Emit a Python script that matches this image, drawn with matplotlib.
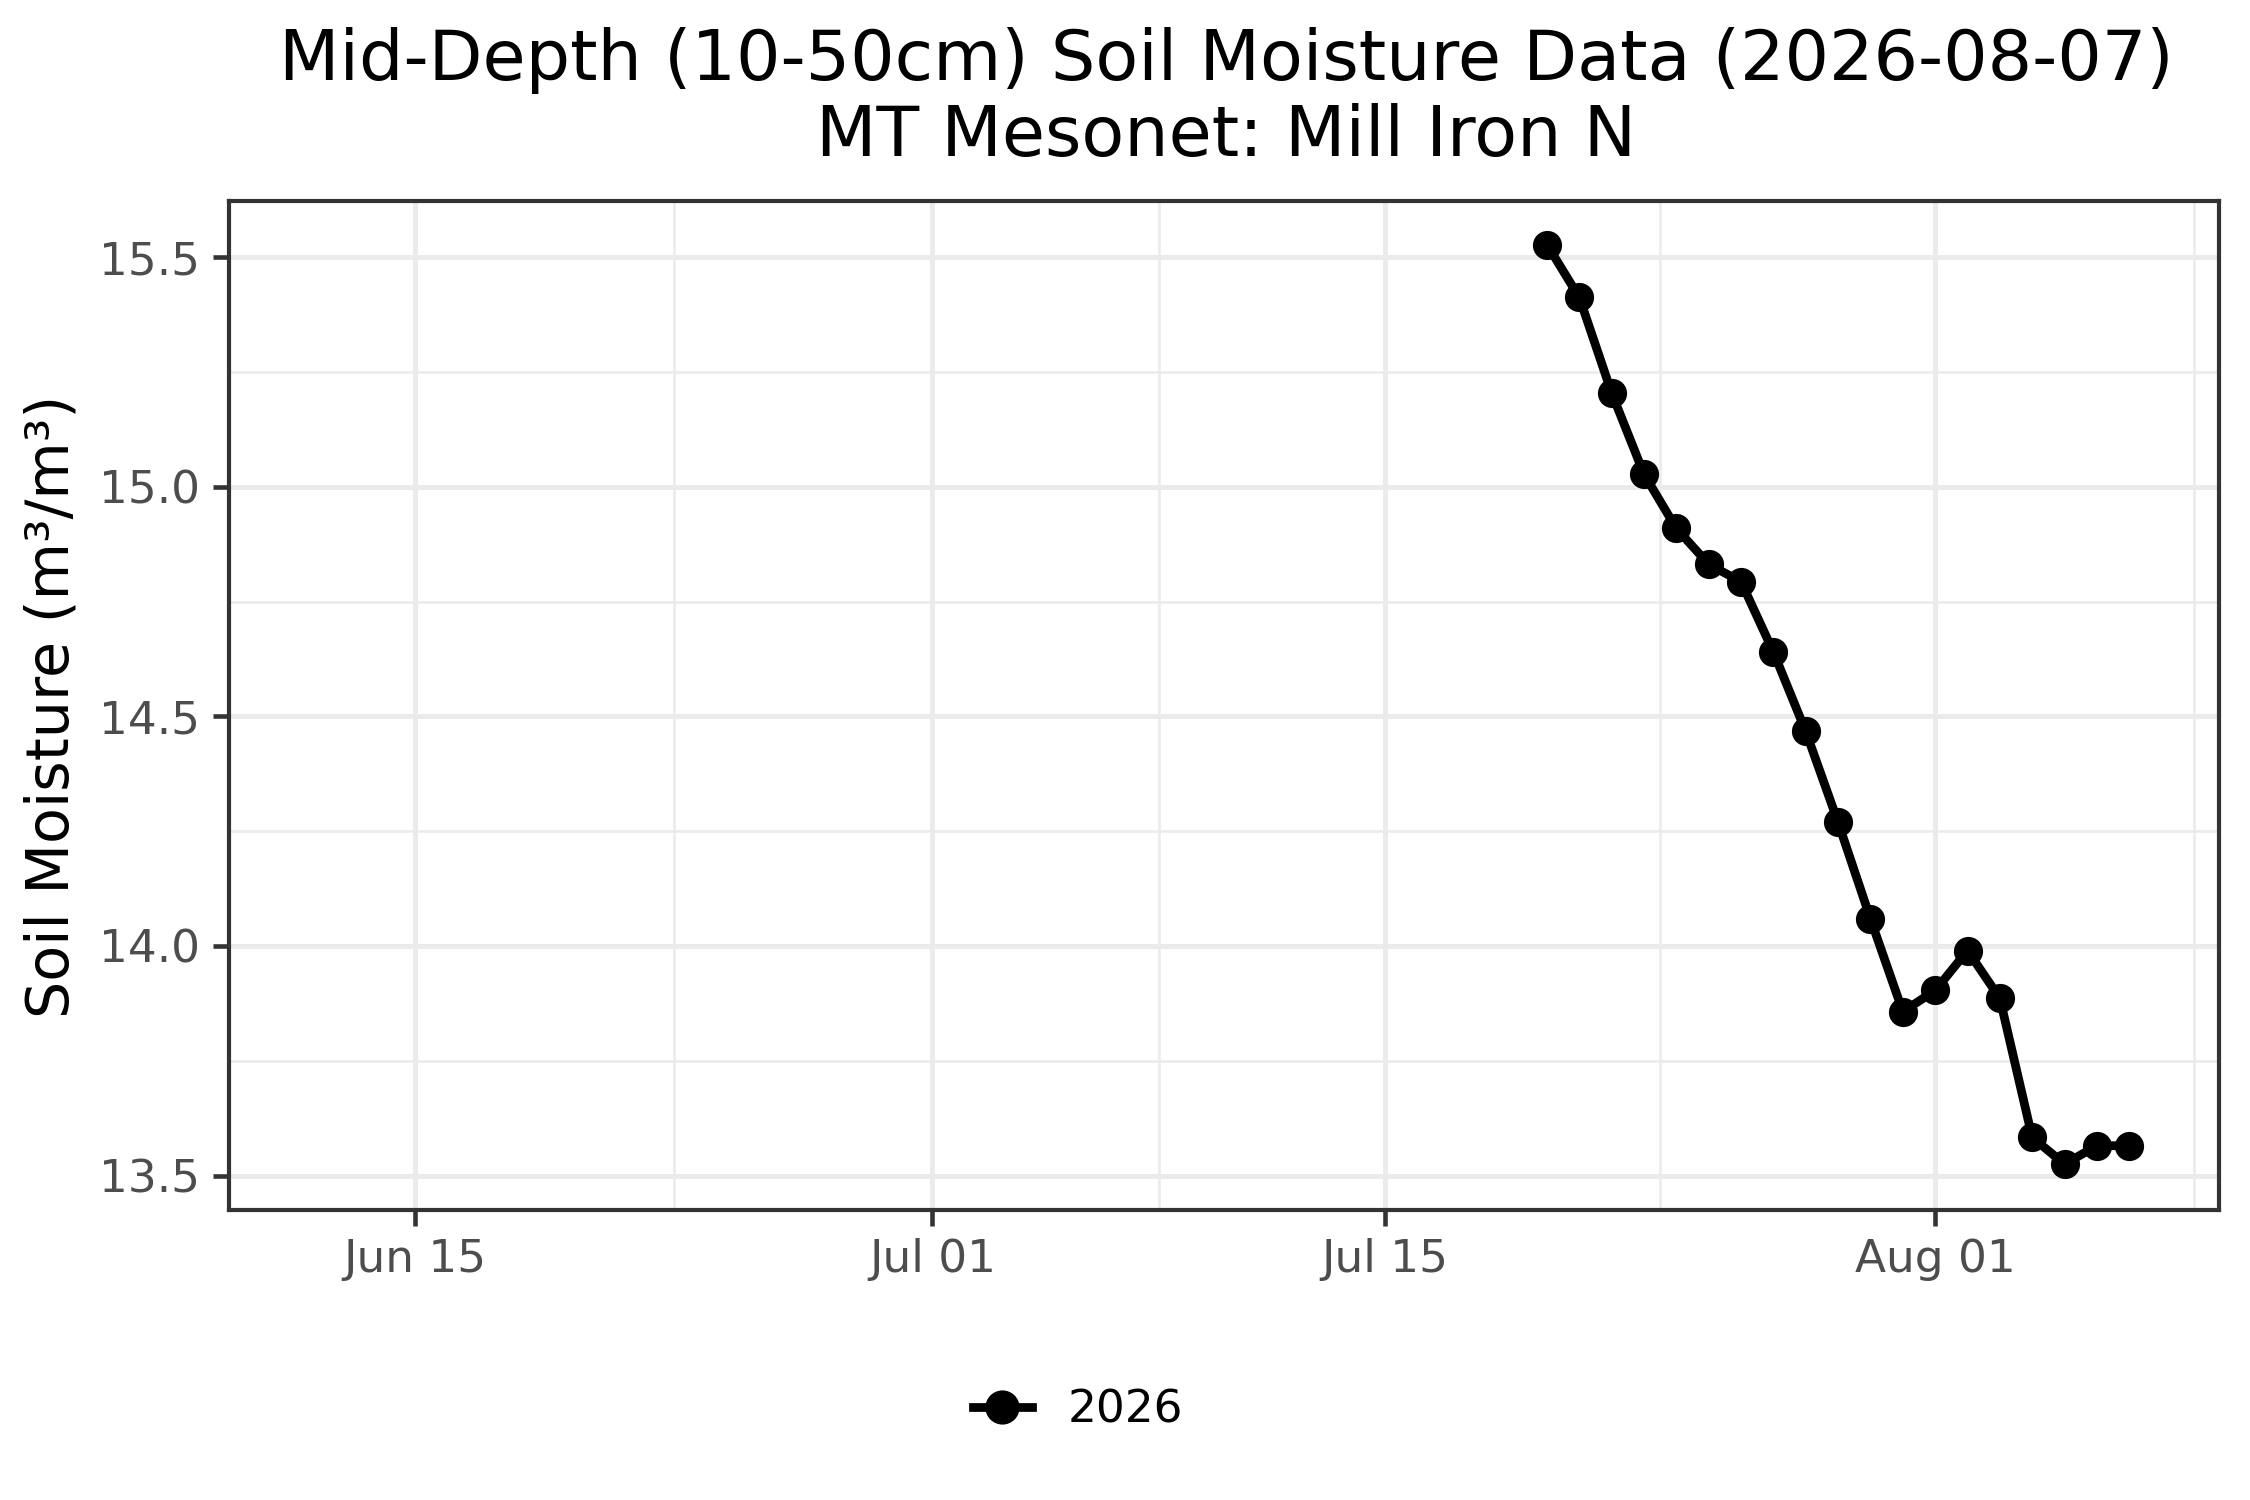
import matplotlib
matplotlib.use("Agg")
import matplotlib.pyplot as plt
import matplotlib.dates as mdates
from datetime import datetime, timedelta

# daily mid-depth soil moisture, Jul 20 - Aug 7 2026
start = datetime(2026, 7, 20)
moisture = [15.527, 15.412, 15.204, 15.027, 14.909, 14.831, 14.793, 14.640,
            14.467, 14.269, 14.059, 13.857, 13.903, 13.990, 13.886, 13.583,
            13.525, 13.565, 13.565]
dates = [start + timedelta(days=i) for i in range(len(moisture))]

major_dates = [datetime(2026, 6, 15), datetime(2026, 7, 1),
               datetime(2026, 7, 15), datetime(2026, 8, 1)]
major_labels = ['Jun 15', 'Jul 01', 'Jul 15', 'Aug 01']
minor_dates = [datetime(2026, 6, 23), datetime(2026, 7, 8),
               datetime(2026, 7, 23, 12), datetime(2026, 8, 9)]
y_major = [13.5, 14.0, 14.5, 15.0, 15.5]
y_minor = [13.75, 14.25, 14.75, 15.25]

fig = plt.figure(figsize=(7.5, 5), dpi=300)
ax = fig.add_axes([0.1016, 0.1933, 0.8847, 0.673])

ax.plot(dates, moisture, color='black', linewidth=2.1, marker='o',
        markersize=6.0, label='2026', zorder=3)

ax.set_xlim(mdates.date2num(datetime(2026, 6, 9)) + 0.24,
            mdates.date2num(datetime(2026, 8, 9)) + 0.78)
rng = max(moisture) - min(moisture)
ax.set_ylim(min(moisture) - 0.05 * rng, max(moisture) + 0.048 * rng)

ax.set_xticks(major_dates)
ax.set_xticklabels(major_labels)
ax.set_xticks(minor_dates, minor=True)
ax.set_yticks(y_major)
ax.set_yticklabels([f'{v:.1f}' for v in y_major])
ax.set_yticks(y_minor, minor=True)

ax.grid(which='major', color='#EBEBEB', linewidth=1.2, zorder=0)
ax.grid(which='minor', color='#EBEBEB', linewidth=0.6, zorder=0)
ax.set_axisbelow(True)

ax.tick_params(which='major', length=3.8, width=1.1, color='#333333',
               labelsize=10.9, labelcolor='#4D4D4D', pad=3)
ax.tick_params(which='minor', length=0)
for s in ax.spines.values():
    s.set_color('#333333')
    s.set_linewidth(1.0)

cx = 1226 / 2250
fig.text(cx, 1 - 80 / 1500, 'Mid-Depth (10-50cm) Soil Moisture Data (2026-08-07)',
         ha='center', va='baseline', fontsize=16.8)
fig.text(cx, 1 - 156 / 1500, 'MT Mesonet: Mill Iron N',
         ha='center', va='baseline', fontsize=16.8)
fig.text(52 / 2250, 1 - 706 / 1500, 'Soil Moisture (m³/m³)', rotation=90,
         ha='center', va='center', fontsize=14.1)

fig.legend(loc='center', bbox_to_anchor=(1078 / 2250, 1 - 1410 / 1500),
           frameon=False, fontsize=10.9, handlelength=1.3, handletextpad=0.8,
           markerscale=1.2)

fig.savefig('out.png', dpi=300)
